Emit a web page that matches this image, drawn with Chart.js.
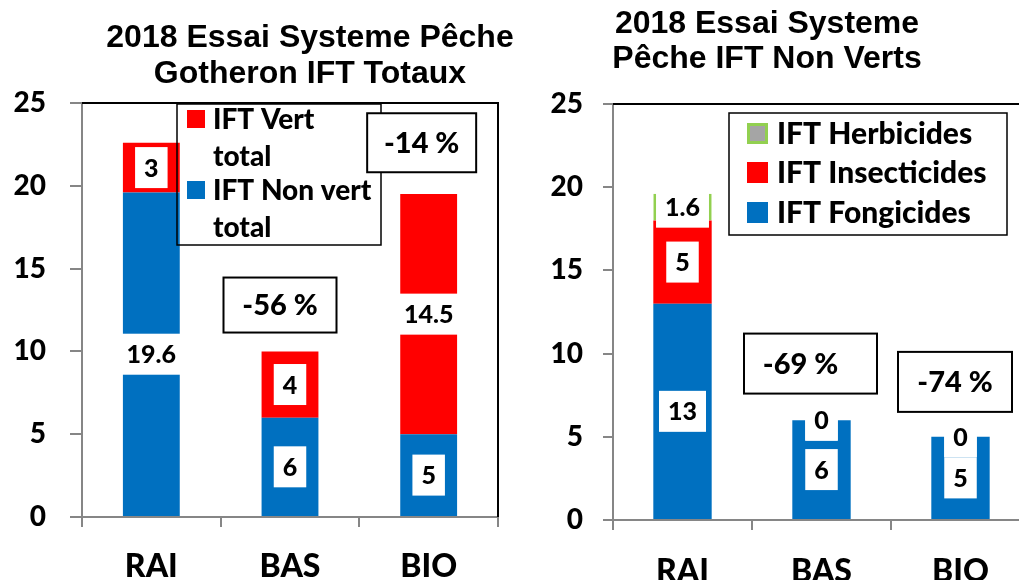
<!DOCTYPE html>
<html>
<head>
<meta charset="utf-8">
<script src="https://cdn.jsdelivr.net/npm/chart.js@4.4.0/dist/chart.umd.min.js"></script>
<style>
  html, body { margin: 0; padding: 0; background: #fff; overflow: hidden; width: 1019px; height: 580px; }
  #left { position: absolute; left: 0; top: 0; }
  #right { position: absolute; left: 530px; top: 0; }
</style>
</head>
<body>
<canvas id="left" width="530" height="580"></canvas>
<canvas id="right" width="530" height="580"></canvas>
<script>
// data
const categories = ['RAI', 'BAS', 'BIO'];
const yTicks = [0, 5, 10, 15, 20, 25];

// IFT totaux
const iftNonVert = [19.6, 6, 5];
const iftVert = [3, 4, 14.5];
const leftNotes = ['-56 %', '-14 %'];

// IFT non verts
const iftFongicides = [13, 6, 5];
const iftInsecticides = [5, 0, 0];
const iftHerbicides = [1.6, 0, 0];
const rightNotes = ['-69 %', '-74 %'];

const BLUE = '#0070C0', RED = '#FF0000', GREEN = '#92D050', GREY = '#A5A5A5';
const AXIS = '#868686';
const LABEL_FONT = 'Lato';
const W = '900';

// white boxed value labels on each segment
const valueLabels = {
  id: 'valueLabels',
  afterDatasetsDraw(chart) {
    const ctx = chart.ctx;
    ctx.save();
    ctx.font = W + ' 25px ' + LABEL_FONT;
    ctx.textAlign = 'center';
    ctx.textBaseline = 'middle';
    chart.data.datasets.forEach((ds, i) => {
      chart.getDatasetMeta(i).data.forEach((bar, j) => {
        const txt = String(ds.data[j]);
        const cy = (bar.y + bar.base) / 2;
        const w = ctx.measureText(txt).width + 18;
        ctx.fillStyle = '#fff';
        ctx.fillRect(bar.x - w / 2, cy - 20.5, w, 41);
        ctx.fillStyle = '#000';
        ctx.fillText(txt, bar.x, cy + 1);
      });
    });
    ctx.restore();
  }
};

// black plot frame (top + right), titles, legend box, % boxes
const decor = {
  id: 'decor',
  beforeDatasetsDraw(chart, args, o) {
    const ctx = chart.ctx, a = chart.chartArea;
    ctx.save();
    ctx.strokeStyle = '#000';
    ctx.lineWidth = 2;
    ctx.beginPath();
    ctx.moveTo(a.left, a.top);
    ctx.lineTo(a.right, a.top);
    ctx.lineTo(a.right, a.bottom);
    ctx.stroke();
    ctx.restore();
  },
  afterDraw(chart, args, o) {
    const ctx = chart.ctx;
    const xs = chart.scales.x, ys = chart.scales.y;
    ctx.save();
    // title
    ctx.fillStyle = '#000';
    ctx.font = 'bold 32px "Liberation Sans", Arial';
    ctx.textAlign = 'center';
    ctx.textBaseline = 'alphabetic';
    o.title.forEach((line, k) => ctx.fillText(line, o.titleX, o.titleBase[k]));

    // legend
    const lg = o.legend;
    ctx.lineWidth = 1.5;
    ctx.strokeStyle = '#000';
    ctx.strokeRect(lg.box[0], lg.box[1], lg.box[2], lg.box[3]);
    ctx.font = W + ' ' + lg.size + 'px ' + LABEL_FONT;
    ctx.textAlign = 'left';
    ctx.textBaseline = 'middle';
    lg.rows.forEach(r => {
      const ds = chart.data.datasets[r.ds];
      const s = lg.sq;
      ctx.fillStyle = ds.backgroundColor;
      ctx.fillRect(lg.sqX, r.sqTop, s, s);
      if (ds.borderWidth) {
        ctx.strokeStyle = ds.borderColor;
        ctx.lineWidth = 3;
        ctx.strokeRect(lg.sqX + 1.5, r.sqTop + 1.5, s - 3, s - 3);
      }
      let lines = [ds.label];
      if (r.lines.length === 2) {
        const cut = ds.label.lastIndexOf(' ');
        lines = [ds.label.slice(0, cut), ds.label.slice(cut + 1)];
      }
      ctx.fillStyle = '#000';
      lines.forEach((t, k) => ctx.fillText(t, lg.textX, r.lines[k]));
    });

    // % boxes
    ctx.font = W + ' 29px ' + LABEL_FONT;
    ctx.textAlign = 'center';
    o.notes.forEach(n => {
      const cx = xs.getPixelForValue(n.cat) + n.dx;
      const cy = ys.getPixelForValue(n.at);
      ctx.fillStyle = '#fff';
      ctx.fillRect(cx - n.w / 2, cy - n.h / 2, n.w, n.h);
      ctx.strokeStyle = '#000';
      ctx.lineWidth = 2;
      ctx.strokeRect(cx - n.w / 2, cy - n.h / 2, n.w, n.h);
      ctx.fillStyle = '#000';
      ctx.fillText(n.text, cx + (n.tx || 0), cy + 1);
    });
    ctx.restore();
  }
};

function makeScales(xHeight, xPad, yWidth, yTickLen, yPad) {
  return {
    x: {
      stacked: true,
      offset: true,
      grid: { display: true, drawOnChartArea: false, offset: true, tickLength: 10, color: AXIS, lineWidth: 2 },
      border: { display: true, color: AXIS, width: 2 },
      ticks: { font: { family: LABEL_FONT, weight: W, size: 32 }, color: '#000', padding: xPad },
      afterFit(s) { s.height = xHeight; }
    },
    y: {
      stacked: true,
      min: 0,
      max: 25,
      afterBuildTicks(s) { s.ticks = yTicks.map(v => ({ value: v })); },
      grid: { display: true, drawOnChartArea: false, tickLength: yTickLen, color: AXIS, lineWidth: 2 },
      border: { display: true, color: AXIS, width: 2 },
      ticks: { font: { family: LABEL_FONT, weight: W, size: 28 }, color: '#000', padding: yPad },
      afterFit(s) { s.width = yWidth; }
    }
  };
}

new Chart(document.getElementById('left'), {
  type: 'bar',
  data: {
    labels: categories,
    datasets: [
      { label: 'IFT Non vert total', data: iftNonVert, backgroundColor: BLUE, borderWidth: 0 },
      { label: 'IFT Vert total', data: iftVert, backgroundColor: RED, borderWidth: 0 }
    ]
  },
  options: {
    responsive: false,
    animation: false,
    events: [],
    layout: { padding: { top: 103, right: 32, left: 0, bottom: 0 } },
    datasets: { bar: { categoryPercentage: 1, barPercentage: 0.41 } },
    scales: makeScales(63, 20, 82, 12, 24),
    plugins: {
      legend: { display: false },
      tooltip: { enabled: false },
      decor: {
        title: ['2018 Essai Systeme Pêche', 'Gotheron IFT Totaux'],
        titleX: 310,
        titleBase: [47, 83],
        legend: {
          box: [177, 104, 204, 141], size: 28, sq: 18, sqX: 187, textX: 213,
          rows: [{ ds: 1, sqTop: 110, lines: [120, 157] }, { ds: 0, sqTop: 181, lines: [191, 228] }]
        },
        notes: [
          { text: leftNotes[0], cat: 1, dx: -10, at: 12.8, w: 113, h: 55 },
          { text: leftNotes[1], cat: 2, dx: -7, at: 22.6, w: 109, h: 59 }
        ]
      }
    }
  },
  plugins: [decor, valueLabels]
});

new Chart(document.getElementById('right'), {
  type: 'bar',
  data: {
    labels: categories,
    datasets: [
      { label: 'IFT Fongicides', data: iftFongicides, backgroundColor: BLUE, borderWidth: 0 },
      { label: 'IFT Insecticides', data: iftInsecticides, backgroundColor: RED, borderWidth: 0 },
      { label: 'IFT Herbicides', data: iftHerbicides, backgroundColor: GREY, borderColor: GREEN, borderWidth: 4, borderSkipped: 'start' }
    ]
  },
  options: {
    responsive: false,
    animation: false,
    events: [],
    layout: { padding: { top: 104, right: 30, left: 0, bottom: 0 } },
    datasets: { bar: { categoryPercentage: 1, barPercentage: 0.42 } },
    scales: makeScales(60, 22, 83, 10, 20),
    plugins: {
      legend: { display: false },
      tooltip: { enabled: false },
      decor: {
        title: ['2018 Essai Systeme', 'Pêche IFT Non Verts'],
        titleX: 237,
        titleBase: [33, 68],
        legend: {
          box: [199, 113, 278, 122], size: 30, sq: 21, sqX: 217, textX: 247,
          rows: [{ ds: 2, sqTop: 123, lines: [134] }, { ds: 1, sqTop: 162, lines: [173] }, { ds: 0, sqTop: 202, lines: [213] }]
        },
        notes: [
          { text: rightNotes[0], cat: 1, dx: -11, at: 9.4, w: 133, h: 60, tx: -10 },
          { text: rightNotes[1], cat: 2, dx: -5.5, at: 8.3, w: 114, h: 60 }
        ]
      }
    }
  },
  plugins: [decor, valueLabels]
});
</script>
</body>
</html>
